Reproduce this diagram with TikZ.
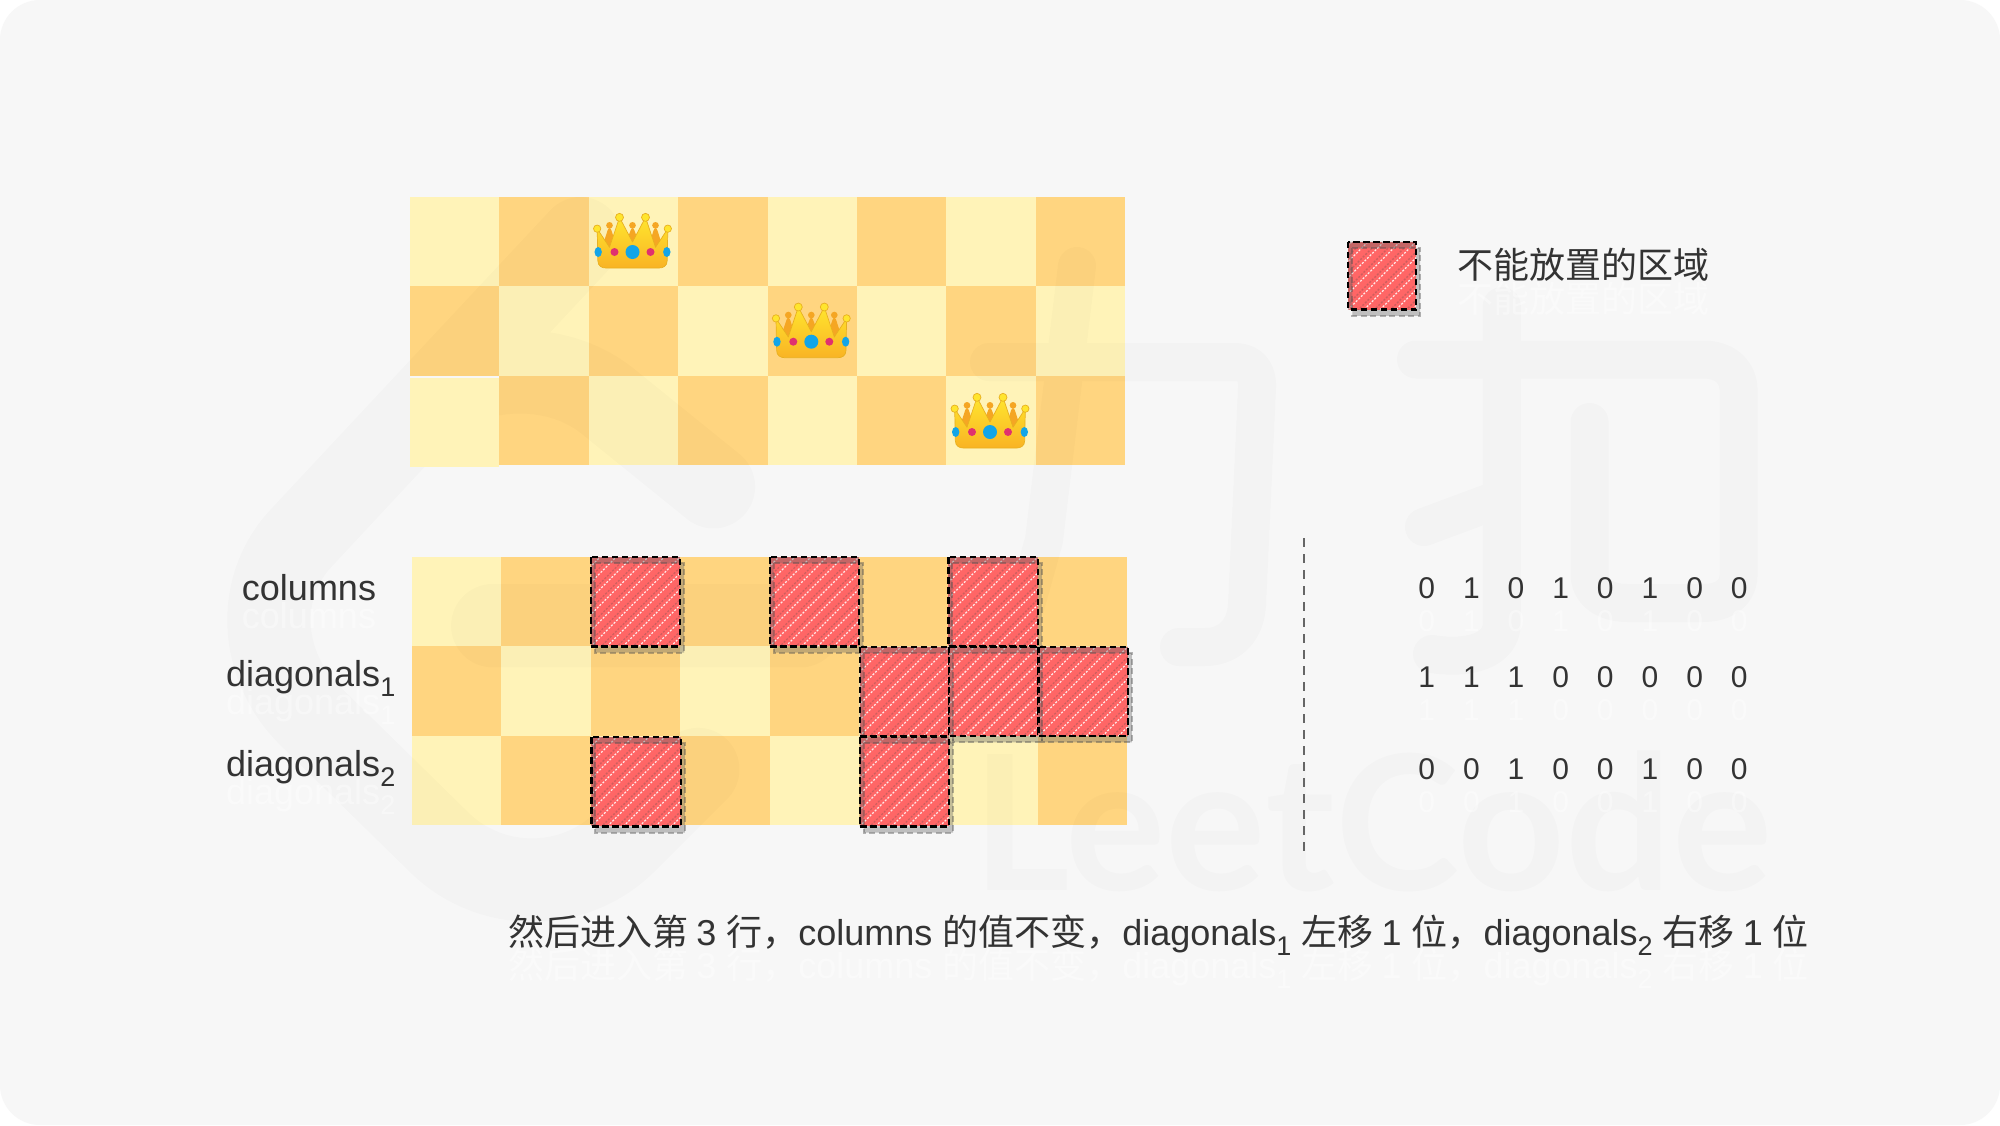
\documentclass[tikz,border=0pt]{standalone}
\usepackage{fontspec}
\setmainfont{Liberation Sans}
\newfontfamily\cjk{Noto Sans CJK SC}
\newfontfamily\wmfont{Lato}
\usetikzlibrary{svg.path}
\definecolor{bgc}{HTML}{F7F7F7}
\definecolor{cellL}{HTML}{FFF3B8}
\definecolor{cellD}{HTML}{FFD580}
\definecolor{hatchR}{HTML}{FF6666}
\definecolor{ink}{HTML}{333333}
\definecolor{crownTop}{HTML}{FFE52E}
\definecolor{crownBot}{HTML}{F9B324}
\definecolor{crownBack}{HTML}{F5A623}
\definecolor{crownEdge}{HTML}{E8B020}
\definecolor{gemBlue}{HTML}{12A5E8}
\definecolor{gemPink}{HTML}{E0306F}
\tikzset{
  celllight/.style={fill=cellL},
  celldark/.style={fill=cellD},
  wmstroke/.style={draw=black,line width=38pt,line cap=round,line join=round},
  label/.style={text=ink,inner sep=0pt,font=\fontsize{36}{36}\selectfont},
  digit/.style={text=ink,inner sep=0pt,anchor=base,font=\fontsize{30}{30}\selectfont},
  ghost/.style={text=white,text opacity=.4},
  hatchline/.style={white,opacity=.85,line width=1.3pt,dash pattern=on 2pt off 1.6pt},
  hatchshadow/.style={black!70,opacity=.28,line width=1.3pt,dash pattern=on 2pt off 1.6pt},
  outlinedash/.style={black,line width=2.2pt,dash pattern=on 6.5pt off 3.5pt},
}
\newcommand\lsub[1]{\raisebox{-10pt}{\fontsize{27}{27}\selectfont #1}}
% hatched box: x, y (top-left), side
\newcommand\hatchbox[3]{%
\begin{scope}[shift={(#1,#2)}]
  \fill[hatchR] (0,0) rectangle (#3,#3);
  \begin{scope}
    \clip (0,0) rectangle (#3,#3);
    \foreach \t in {-128,-112,...,128} {
      \draw[hatchline] (\t,#3) -- ({\t+#3},0);
      \draw[hatchshadow] ({\t+4},{#3+6.3}) -- ({\t+#3+4},6.3);
    }
  \end{scope}
  \fill[black!60,opacity=.38,even odd rule] (4,6.3) rectangle ({#3+4},{#3+6.3}) (0,0) rectangle (#3,#3);
  \draw[black!70,opacity=.4,line width=2pt,dash pattern=on 6pt off 3.5pt] (4,6.3) rectangle ({#3+4},{#3+6.3});
  \draw[outlinedash] (0,0) rectangle (#3,#3);
\end{scope}}
% crown: centre x, bottom y
\newcommand\crownicon[2]{%
\begin{scope}[shift={(#1,#2)},x=0.3333pt,y=-0.3333pt]
  \fill[crownBack] (-92,-60) -- (-75,-112) .. controls (-72,-122) and (-66,-122) .. (-63,-112) -- (-46,-60) -- cycle
     (-22,-70) -- (-6,-112) .. controls (-3,-122) and (3,-122) .. (6,-112) -- (22,-70) -- cycle
     (46,-60) -- (63,-112) .. controls (66,-122) and (72,-122) .. (75,-112) -- (92,-60) -- cycle;
  \fill[crownBack] (-69,-128) circle [radius=10] (0,-128) circle [radius=10] (69,-128) circle [radius=10];
  \shadedraw[draw=crownEdge,line width=.7pt,top color=crownTop,bottom color=crownBot,line join=round]
     (-106,-118) -- (-69,-62) -- (-39,-152) -- (0,-78) -- (39,-152) -- (69,-62) -- (106,-118)
     -- (104,-22) .. controls (104,-6) and (92,0) .. (80,0) -- (-80,0) .. controls (-92,0) and (-104,-6) .. (-104,-22) -- cycle;
  \filldraw[fill=crownTop,draw=crownEdge,line width=.7pt]
     (-39,-152) circle [radius=12] (39,-152) circle [radius=12]
     (-106,-118) circle [radius=11] (106,-118) circle [radius=11];
  \fill[gemBlue] (0,-48) circle [radius=21]
     (-103,-48) ellipse [x radius=11,y radius=15] (103,-48) ellipse [x radius=11,y radius=15];
  \fill[gemPink] (-54,-48) circle [radius=12] (54,-48) circle [radius=12];
\end{scope}}
\begin{document}
\begin{tikzpicture}[x=1pt,y=-1pt]
\useasboundingbox (0,0) rectangle (2000,1125);
\fill[white] (0,0) rectangle (2000,1125);
\fill[bgc,rounded corners=40pt] (0,0) rectangle (2000,1125);
% boards
\foreach \r in {0,1,2} \foreach \c in {0,...,7} {
  \pgfmathparse{int(mod(\r+\c,2))}
  \ifnum\pgfmathresult=0\def\cst{celllight}\else\def\cst{celldark}\fi
  \fill[\cst] ({410+\c*89.4},{197+\r*89.4}) rectangle ({410+(\c+1)*89.4},{197+(\r+1)*89.4});
  \fill[\cst] ({412+\c*89.4},{557+\r*89.4}) rectangle ({412+(\c+1)*89.4},{557+(\r+1)*89.4});
}
% watermark
\begin{scope}[transparency group,opacity=.015]
  \begin{scope}[shift={(172,197)},xscale=30.2,yscale=-30.2]
    \fill[black] svg {M 13.483 0 a 1.374 1.374 0 0 0 -0.961 0.438 L 7.116 6.226 l -3.854 4.126 a 5.266 5.266 0 0 0 -1.209 2.104 a 5.35 5.35 0 0 0 -0.125 0.513 a 5.527 5.527 0 0 0 0.062 2.362 a 5.83 5.83 0 0 0 0.349 1.017 a 5.938 5.938 0 0 0 1.271 1.818 l 4.277 4.193 l 0.039 0.038 c 2.248 2.165 5.852 2.133 8.063 -0.074 l 2.396 -2.392 c 0.54 -0.54 0.54 -1.414 0.003 -1.955 a 1.378 1.378 0 0 0 -1.951 -0.003 l -2.396 2.392 a 3.021 3.021 0 0 1 -4.205 0.038 l -0.02 -0.019 l -4.276 -4.193 c -0.652 -0.64 -0.972 -1.469 -0.948 -2.263 a 2.68 2.68 0 0 1 0.066 -0.523 a 2.545 2.545 0 0 1 0.619 -1.164 L 9.13 8.114 c 1.058 -1.134 3.204 -1.27 4.43 -0.278 l 3.501 2.831 c 0.593 0.48 1.461 0.387 1.94 -0.207 a 1.384 1.384 0 0 0 -0.207 -1.943 l -3.5 -2.831 c -0.8 -0.647 -1.766 -1.045 -2.774 -1.202 l 2.015 -2.158 A 1.384 1.384 0 0 0 13.483 0 z M 10.617 12.815 a 1.38 1.38 0 0 0 -1.38 1.382 a 1.38 1.38 0 0 0 1.38 1.382 H 20.79 a 1.38 1.38 0 0 0 1.38 -1.382 a 1.38 1.38 0 0 0 -1.38 -1.382 z};
  \end{scope}
  % li
  \draw[wmstroke] (989,362) -- (1235,362) .. controls (1250,362) and (1258,372) .. (1257,388)
     -- (1247,605) .. controls (1245,635) and (1225,647) .. (1205,647) -- (1179,647);
  \draw[wmstroke] (1077,266) -- (1044,540) -- (1017,637) .. controls (1010,660) and (1000,680) .. (985,700);
  % kou
  \draw[wmstroke] (1589.6,422) -- (1589.6,574) .. controls (1589.6,592) and (1605,603) .. (1627.5,603)
     -- (1703,603) .. controls (1725,603) and (1738.6,592) .. (1738.6,574) -- (1738.6,391)
     .. controls (1738.6,372) and (1725,359.5) .. (1703,359.5) -- (1416,359.5);
  \draw[wmstroke] (1501.8,306) -- (1501.8,623) .. controls (1501.8,650) and (1470,660) .. (1432,654);
  \draw[wmstroke] (1424,527) -- (1502,498);
  \node[anchor=base west,inner sep=0pt,text=black,font=\wmfont\bfseries\fontsize{188}{188}\selectfont] (wm) at (972,890) {LeetCode};
\end{scope}
% top-board offset cells
\fill[bgc] (410,375.8) rectangle (499.4,378);
\fill[cellL] (410,378) rectangle (499.4,467);
% hatched cells
\foreach \c in {2,4,6} { \hatchbox{\fpeval{412+\c*89.4}}{557}{89.4} }
\foreach \c in {5,6,7} { \hatchbox{\fpeval{412.6+\c*89.4}}{646.7}{89.4} }
\foreach \c in {2,5} { \hatchbox{\fpeval{412.6+\c*89.4}}{737}{89.4} }
\hatchbox{1348.3}{241.7}{67.8}
% crowns
\crownicon{632.5}{268}
\crownicon{811.3}{357.7}
\crownicon{990}{448}
% divider
\coordinate (dtop) at (1304,538);
\coordinate (dbot) at (1304,853);
\draw[black!60,line width=1.5pt,dash pattern=on 9pt off 7pt] (dtop) -- (dbot);
% ghost texts
\node[label,ghost,anchor=base] (g1) at (309,628) {columns};
\node[label,ghost,anchor=base east] (g2) at (395.5,714.7) {diagonals\lsub{1}};
\node[label,ghost,anchor=base east] (g3) at (395.5,804) {diagonals\lsub{2}};
\node[label,ghost,anchor=west] (g4) at (1457,299) {\cjk 不能放置的区域};
\node[label,ghost,anchor=base west] (g5) at (508,978) {\cjk 然后进入第\ \rmfamily 3\ \cjk 行，\rmfamily columns \cjk 的值不变，\rmfamily diagonals\lsub{1} \cjk 左移\ \rmfamily 1\ \cjk 位，\rmfamily diagonals\lsub{2} \cjk 右移\ \rmfamily 1\ \cjk 位};
% labels
\node[label,anchor=base] (lc) at (309,600) {columns};
\node[label,anchor=base east] (ld1) at (395.5,686.7) {diagonals\lsub{1}};
\node[label,anchor=base east] (ld2) at (395.5,776) {diagonals\lsub{2}};
\node[label,anchor=west] (leg) at (1457,265) {\cjk 不能放置的区域};
\node[label,anchor=base west] (cap) at (508,945) {\cjk 然后进入第\ \rmfamily 3\ \cjk 行，\rmfamily columns \cjk 的值不变，\rmfamily diagonals\lsub{1} \cjk 左移\ \rmfamily 1\ \cjk 位，\rmfamily diagonals\lsub{2} \cjk 右移\ \rmfamily 1\ \cjk 位};
% digits
\foreach \row/\by/\vals in {0/598/{0,1,0,1,0,1,0,0},1/687.7/{1,1,1,0,0,0,0,0},2/779.3/{0,0,1,0,0,1,0,0}} {
  \foreach \v [count=\i from 0] in \vals {
    \node[digit,ghost] (g\row\i) at ({1426.7+\i*44.65},{\by+33}) {\v};
    \node[digit] (d\row\i) at ({1426.7+\i*44.65},\by) {\v};
  }
}
\end{tikzpicture}
\end{document}
